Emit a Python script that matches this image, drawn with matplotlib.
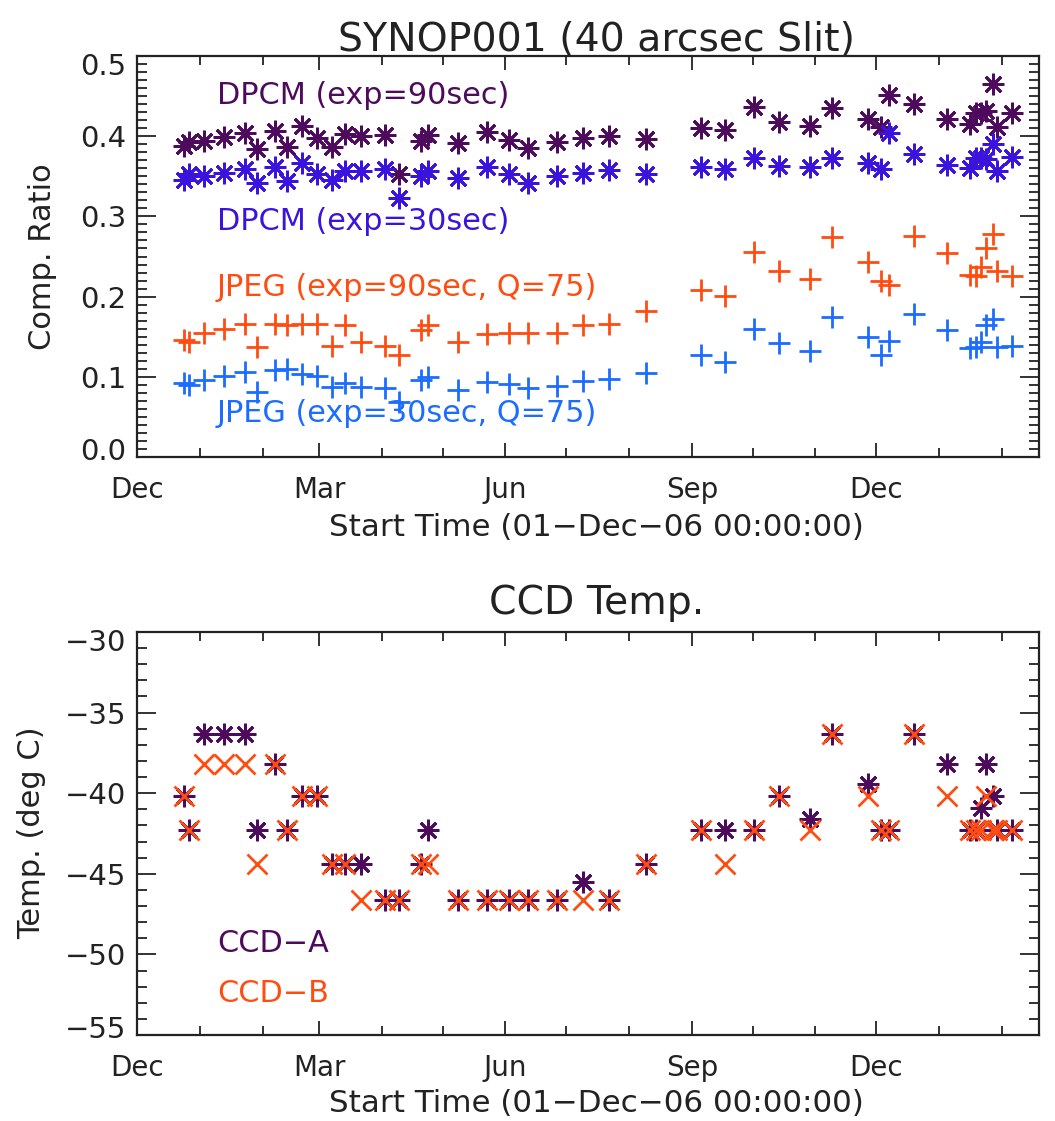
import datetime
import matplotlib
matplotlib.use("Agg")
import matplotlib.pyplot as plt
from matplotlib.ticker import FixedLocator, MultipleLocator, FixedFormatter, FuncFormatter
from matplotlib.transforms import ScaledTranslation

# ---------------- data ----------------
# observation times in days since 01-Dec-06 00:00:00
days = [23.1, 25.5, 32.9, 43.1, 53.5, 59.3, 68.3, 74.1, 81.7, 88.9, 96.3, 102.9,
        110.6, 122.6, 129.2, 140.2, 143.6, 158.7, 172.7, 183.6, 193.0, 207.4,
        220.1, 233.2, 251.4, 278.5, 290.4, 304.5, 317.2, 332.3, 343.4, 360.8,
        367.4, 371.3, 383.9, 400.2, 411.2, 414.2, 416.8, 419.4, 422.9, 424.8, 432.4]

dpcm_90 = [0.388, 0.393, 0.394, 0.399, 0.404, 0.3835, 0.406, 0.386, 0.4125, 0.398,
           0.386, 0.403, 0.400, 0.401, 0.3525, 0.394, 0.401, 0.392, 0.405, 0.395,
           0.385, 0.393, 0.398, 0.400, 0.396, 0.410, 0.408, 0.436, 0.418, 0.413,
           0.435, 0.4215, 0.412, 0.451, 0.440, 0.421, 0.415, 0.429, 0.429, 0.431,
           0.465, 0.411, 0.429]
dpcm_30 = [0.346, 0.353, 0.350, 0.3545, 0.359, 0.342, 0.361, 0.344, 0.367, 0.3525,
           0.346, 0.357, 0.357, 0.359, 0.323, 0.350, 0.357, 0.348, 0.361, 0.3525,
           0.342, 0.350, 0.354, 0.358, 0.3525, 0.3615, 0.359, 0.373, 0.363, 0.361,
           0.373, 0.366, 0.359, 0.404, 0.378, 0.364, 0.360, 0.373, 0.373, 0.371,
           0.390, 0.357, 0.374]
jpeg_90 = [0.1456, 0.1435, 0.154, 0.160, 0.166, 0.137, 0.166, 0.165, 0.166, 0.166,
           0.139, 0.164, 0.1435, 0.139, 0.127, 0.158, 0.164, 0.1435, 0.153, 0.155,
           0.155, 0.154, 0.165, 0.166, 0.182, 0.208, 0.201, 0.256, 0.2325, 0.222,
           0.274, 0.243, 0.219, 0.215, 0.275, 0.254, 0.2275, 0.226, 0.2366, 0.2606,
           0.278, 0.2325, 0.226]
jpeg_30 = [0.0918, 0.0897, 0.096, 0.101, 0.106, 0.0814, 0.108, 0.110, 0.104, 0.101,
           0.0876, 0.0918, 0.0876, 0.0856, 0.069, 0.096, 0.100, 0.0835, 0.093, 0.091,
           0.0856, 0.089, 0.095, 0.097, 0.105, 0.127, 0.1187, 0.159, 0.142, 0.132,
           0.175, 0.1497, 0.127, 0.1443, 0.178, 0.158, 0.1353, 0.137, 0.1435, 0.164,
           0.1725, 0.137, 0.139]

ccd_a = [-40.2, -42.3, -36.3, -36.3, -36.3, -42.3, -38.2, -42.3, -40.2, -40.2,
         -44.4, -44.4, -44.4, -46.6, -46.6, -44.4, -42.3, -46.6, -46.6, -46.6,
         -46.6, -46.6, -45.5, -46.6, -44.4, -42.3, -42.3, -42.3, -40.2, -41.6,
         -36.3, -39.45, -42.3, -42.3, -36.3, -38.2, -42.3, -42.3, -40.9, -38.2,
         -40.2, -42.3, -42.3]
ccd_b = [-40.2, -42.3, -38.2, -38.2, -38.2, -44.4, -38.2, -42.3, -40.2, -40.2,
         -44.4, -44.4, -46.6, -46.6, -46.6, -44.4, -44.4, -46.6, -46.6, -46.6,
         -46.6, -46.6, -46.6, -46.6, -44.4, -42.3, -44.4, -42.3, -40.2, -42.3,
         -36.3, -40.2, -42.3, -42.3, -36.3, -40.2, -42.3, -42.3, -42.3, -40.2,
         -42.3, -42.3, -42.3]

major_month_labels = ["Dec", "Mar", "Jun", "Sep", "Dec"]
ratio_ticks = [0.0, 0.1, 0.2, 0.3, 0.4, 0.5]
temp_ticks = [-55, -50, -45, -40, -35, -30]

# ---------------- style ----------------
C_DPCM90 = "#4E0A5C"
C_DPCM30 = "#3A14DC"
C_JPEG90 = "#FF4D12"
C_JPEG30 = "#1C6DFF"
C_AXES = "#222222"
ASTER = (8, 2, 0)

plt.rcParams["font.family"] = ["DejaVu Sans"]

W, H = 1055, 1121
fig = plt.figure(figsize=(W / 100, H / 100), dpi=100)
ax1 = fig.add_axes([137 / W, 1 - 457 / H, 902 / W, 401 / H])
ax2 = fig.add_axes([137 / W, 1 - 1035 / H, 902 / W, 403 / H])

# month tick positions (days since 01-Dec-2006)
base = datetime.date(2006, 12, 1)
month_starts = []
y, m = 2006, 12
for _ in range(15):
    month_starts.append((datetime.date(y, m, 1) - base).days)
    m += 1
    if m > 12:
        m = 1
        y += 1
major_pos = month_starts[0::3]


def style_axes(ax):
    ax.set_xlim(0, 445.5)
    ax.xaxis.set_major_locator(FixedLocator(major_pos))
    ax.xaxis.set_major_formatter(FixedFormatter(major_month_labels))
    ax.xaxis.set_minor_locator(FixedLocator(month_starts))
    ax.tick_params(axis="both", which="both", direction="in", top=True, right=True,
                   color=C_AXES, width=1.3, labelcolor=C_AXES)
    ax.tick_params(axis="x", which="major", length=10, pad=14, labelsize=20)
    ax.tick_params(axis="x", which="minor", length=6.5)
    ax.tick_params(axis="y", which="major", length=14, pad=7.5, labelsize=21)
    ax.tick_params(axis="y", which="minor", length=7)
    for sp in ax.spines.values():
        sp.set_linewidth(1.6)
        sp.set_color(C_AXES)


def shift_end_labels(ax):
    ticks = ax.yaxis.get_major_ticks()
    ticks[0].label1.set_transform(ticks[0].label1.get_transform() +
                                  ScaledTranslation(0, 8 / 100, fig.dpi_scale_trans))
    ticks[-1].label1.set_transform(ticks[-1].label1.get_transform() +
                                   ScaledTranslation(0, -8 / 100, fig.dpi_scale_trans))


mk = dict(linestyle="none", markersize=15.5, markeredgewidth=2.0)
TXT = 21.8

# ---------------- top panel ----------------
ax1.plot(days, dpcm_90, marker=ASTER, color=C_DPCM90, **mk)
ax1.plot(days, dpcm_30, marker=ASTER, color=C_DPCM30, **mk)
ax1.plot(days, jpeg_90, marker="+", color=C_JPEG90, **mk)
ax1.plot(days, jpeg_30, marker="+", color=C_JPEG30, **mk)
ax1.set_ylim(0.0, 0.5)
ax1.yaxis.set_major_locator(FixedLocator(ratio_ticks))
ax1.yaxis.set_minor_locator(MultipleLocator(0.01))
ax1.yaxis.set_major_formatter(FuncFormatter(lambda v, p: "%.1f" % v))
style_axes(ax1)
shift_end_labels(ax1)

tx = (217 - 137) / 902
for yy, s, c in [(95, "DPCM (exp=90sec)", C_DPCM90),
                 (222, "DPCM (exp=30sec)", C_DPCM30),
                 (287, "JPEG (exp=90sec, Q=75)", C_JPEG90),
                 (413, "JPEG (exp=30sec, Q=75)", C_JPEG30)]:
    ax1.text(tx, (457 - yy) / 401, s, color=c, fontsize=TXT,
             transform=ax1.transAxes, va="center", ha="left")

# ---------------- bottom panel ----------------
ax2.plot(days, ccd_a, marker=ASTER, color=C_DPCM90, **mk)
ax2.plot(days, ccd_b, marker="x", color=C_JPEG90, linestyle="none",
         markersize=14, markeredgewidth=2.0)
ax2.set_ylim(-55, -30)
ax2.yaxis.set_major_locator(FixedLocator(temp_ticks))
ax2.yaxis.set_minor_locator(MultipleLocator(1))
ax2.yaxis.set_major_formatter(FuncFormatter(
    lambda v, p: "\u2212%d" % abs(round(v)) if v < 0 else "%d" % round(v)))
style_axes(ax2)
shift_end_labels(ax2)

ax2.text(tx, (1035 - 943) / 403, "CCD\u2212A", color=C_DPCM90, fontsize=TXT,
         transform=ax2.transAxes, va="center", ha="left")
ax2.text(tx, (1035 - 993) / 403, "CCD\u2212B", color=C_JPEG90, fontsize=TXT,
         transform=ax2.transAxes, va="center", ha="left")

# ---------------- titles and axis labels ----------------
def ftext(x, y, s, **kw):
    fig.text(x / W, 1 - y / H, s, ha="center", va="center", color=C_AXES, **kw)

ftext(597, 40, "SYNOP001 (40 arcsec Slit)", fontsize=28.4)
ftext(597, 603, "CCD Temp.", fontsize=28.4)
ftext(596, 528, "Start Time (01\u2212Dec\u221206 00:00:00)", fontsize=22.3)
ftext(596, 1103, "Start Time (01\u2212Dec\u221206 00:00:00)", fontsize=22.3)
ftext(43, 257, "Comp. Ratio", fontsize=22, rotation=90)
ftext(32, 833, "Temp. (deg C)", fontsize=22, rotation=90)

fig.savefig("out.png", dpi=100, facecolor="white")
